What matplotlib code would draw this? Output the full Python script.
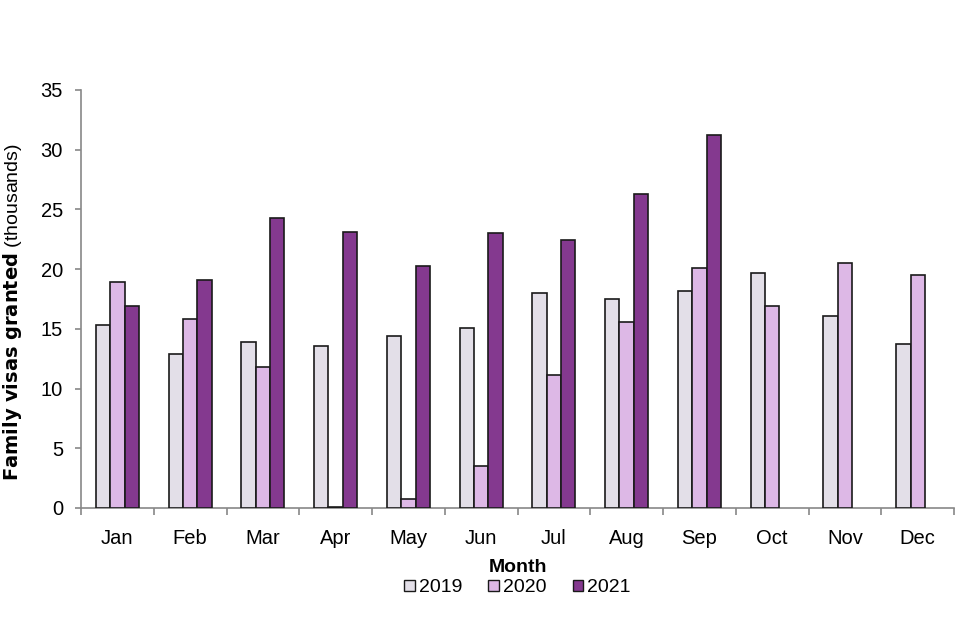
import matplotlib
matplotlib.use("Agg")
import matplotlib.pyplot as plt
import numpy as np
from matplotlib.patches import Patch

months = ["Jan", "Feb", "Mar", "Apr", "May", "Jun", "Jul", "Aug", "Sep", "Oct", "Nov", "Dec"]
years = ["2019", "2020", "2021"]
v2019 = [15.3, 12.9, 13.9, 13.6, 14.4, 15.1, 18.0, 17.5, 18.2, 19.7, 16.1, 13.7]
v2020 = [18.9, 15.8, 11.8, 0.1, 0.75, 3.5, 11.1, 15.6, 20.1, 16.9, 20.5, 19.5]
v2021 = [16.9, 19.1, 24.3, 23.1, 20.3, 23.0, 22.4, 26.3, 31.2, np.nan, np.nan, np.nan]
colors = ["#E3DFE8", "#DDB8E6", "#84398F"]

plt.rcParams['font.family'] = ['Liberation Sans', 'DejaVu Sans']

fig = plt.figure(figsize=(9.6, 6.4), dpi=100)
ax = fig.add_axes([0.0844, 0.2063, 0.9094, 0.6531])

x = np.arange(len(months))
w = 0.197
series = [v2019, v2020, v2021]
for i, (vals, c) in enumerate(zip(series, colors)):
    ax.bar(x + (i - 1) * w, vals, width=w, color=c, edgecolor="#1a1a1a", linewidth=1.2, zorder=3)

ax.set_xlim(-0.5, 11.5)
ax.set_ylim(0, 35)
ax.set_yticks(np.arange(0, 36, 5))
ax.set_xticks(np.arange(-0.5, 12, 1))
ax.set_xticklabels([])
ax.set_xticks(x, minor=True)
ax.set_xticklabels(months, minor=True)
ax.tick_params(axis="x", which="major", length=5, color="#888888", width=1.2, direction="out")
ax.tick_params(axis="x", which="minor", length=0, pad=15, labelsize=14.5)
ax.tick_params(axis="y", length=4, color="#888888", width=1.2, pad=9, labelsize=14.5)

for s in ["top", "right"]:
    ax.spines[s].set_visible(False)
for s in ["left", "bottom"]:
    ax.spines[s].set_color("#888888")
    ax.spines[s].set_linewidth(1.2)

fig.text(0.0135, 0.5125, r"$\bf{Family\ visas\ granted}$ (thousands)", rotation=90,
         ha="center", va="center", fontsize=14)
ax_cx = 0.0844 + 0.9094 / 2
fig.text(ax_cx, 1 - 568 / 640, "Month", ha="center", va="center", fontsize=14, fontweight="bold")

handles = [Patch(facecolor=c, edgecolor="#1a1a1a", linewidth=1.0) for c in colors]
fig.legend(handles, years, loc="center", bbox_to_anchor=(ax_cx, 1 - 588 / 640), ncol=3, frameon=False,
           fontsize=14, handlelength=0.55, handleheight=0.55, handletextpad=0.2, columnspacing=1.35,
           borderpad=0)

fig.savefig("out.png", dpi=100)
